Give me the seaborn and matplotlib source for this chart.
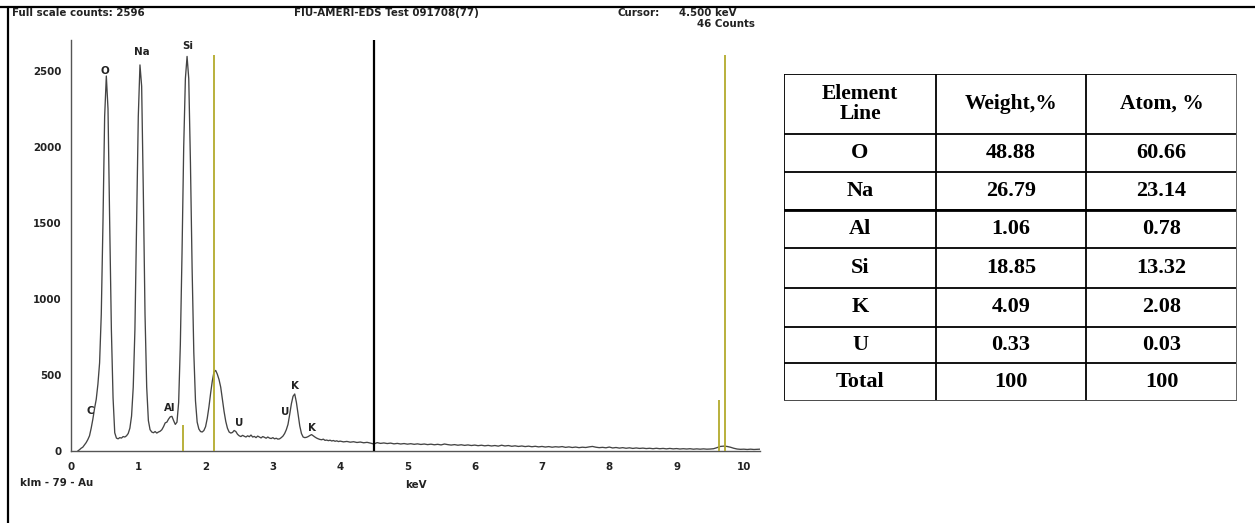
import matplotlib
matplotlib.use("Agg")
import matplotlib.pyplot as plt
from matplotlib.lines import Line2D
import seaborn as sns
import pandas as pd

# ---------------- data ----------------
energy_kev = [
    0.100, 0.125, 0.150, 0.175, 0.200, 0.225, 0.250, 0.275, 0.300, 0.325,
    0.350, 0.375, 0.400, 0.425, 0.450, 0.475, 0.500, 0.525, 0.550, 0.575,
    0.600, 0.625, 0.650, 0.675, 0.700, 0.725, 0.750, 0.775, 0.800, 0.825,
    0.850, 0.875, 0.900, 0.925, 0.950, 0.975, 1.000, 1.025, 1.050, 1.075,
    1.100, 1.125, 1.150, 1.175, 1.200, 1.225, 1.250, 1.275, 1.300, 1.325,
    1.350, 1.375, 1.400, 1.425, 1.450, 1.475, 1.500, 1.525, 1.550, 1.575,
    1.600, 1.625, 1.650, 1.675, 1.700, 1.725, 1.750, 1.775, 1.800, 1.825,
    1.850, 1.875, 1.900, 1.925, 1.950, 1.975, 2.000, 2.025, 2.050, 2.075,
    2.100, 2.125, 2.150, 2.175, 2.200, 2.225, 2.250, 2.275, 2.300, 2.325,
    2.350, 2.375, 2.400, 2.425, 2.450, 2.475, 2.500, 2.525, 2.550, 2.575,
    2.600, 2.625, 2.650, 2.675, 2.700, 2.725, 2.750, 2.775, 2.800, 2.825,
    2.850, 2.875, 2.900, 2.925, 2.950, 2.975, 3.000, 3.025, 3.050, 3.075,
    3.100, 3.125, 3.150, 3.175, 3.200, 3.225, 3.250, 3.275, 3.300, 3.325,
    3.350, 3.375, 3.400, 3.425, 3.450, 3.475, 3.500, 3.525, 3.550, 3.575,
    3.600, 3.625, 3.650, 3.675, 3.700, 3.725, 3.750, 3.775, 3.800, 3.825,
    3.850, 3.875, 3.900, 3.925, 3.950, 3.975, 4.000,
    4.05, 4.10, 4.15, 4.20, 4.25, 4.30, 4.35, 4.40, 4.45, 4.50,
    4.55, 4.60, 4.65, 4.70, 4.75, 4.80, 4.85, 4.90, 4.95, 5.00,
    5.05, 5.10, 5.15, 5.20, 5.25, 5.30, 5.35, 5.40, 5.45, 5.50,
    5.55, 5.60, 5.65, 5.70, 5.75, 5.80, 5.85, 5.90, 5.95, 6.00,
    6.05, 6.10, 6.15, 6.20, 6.25, 6.30, 6.35, 6.40, 6.45, 6.50,
    6.55, 6.60, 6.65, 6.70, 6.75, 6.80, 6.85, 6.90, 6.95, 7.00,
    7.05, 7.10, 7.15, 7.20, 7.25, 7.30, 7.35, 7.40, 7.45, 7.50,
    7.55, 7.60, 7.65, 7.70, 7.75, 7.80, 7.85, 7.90, 7.95, 8.00,
    8.05, 8.10, 8.15, 8.20, 8.25, 8.30, 8.35, 8.40, 8.45, 8.50,
    8.55, 8.60, 8.65, 8.70, 8.75, 8.80, 8.85, 8.90, 8.95, 9.00,
    9.05, 9.10, 9.15, 9.20, 9.25, 9.30, 9.35, 9.40, 9.45, 9.50,
    9.55, 9.60, 9.65, 9.70, 9.75, 9.80, 9.85, 9.90, 9.95, 10.00,
    10.05, 10.10, 10.15, 10.20, 10.24,
]
counts = [
    0, 8, 18, 25, 40, 55, 75, 100, 150, 210,
    280, 340, 440, 580, 900, 1500, 2200, 2467, 2250, 1500,
    800, 350, 120, 85, 80, 88, 85, 95, 92, 100,
    115, 150, 230, 420, 800, 1500, 2200, 2540, 2400, 1700,
    900, 420, 200, 140, 125, 120, 128, 118, 125, 130,
    140, 160, 185, 190, 210, 225, 228, 200, 175, 190,
    320, 700, 1300, 2000, 2450, 2596, 2450, 1900, 1200, 650,
    330, 190, 145, 128, 125, 135, 160, 215, 290, 380,
    460, 520, 530, 505, 470, 420, 340, 260, 195, 150,
    125, 118, 122, 135, 128, 110, 100, 95, 103, 97,
    92, 100, 94, 105, 92, 96, 88, 98, 92, 86,
    95, 90, 84, 92, 85, 82, 88, 80, 84, 78,
    80, 88, 98, 115, 140, 175, 240, 310, 360, 375,
    320, 240, 165, 115, 92, 88, 90, 95, 102, 108,
    100, 92, 85, 80, 76, 74, 78, 70, 72, 68,
    71, 66, 69, 64, 67, 62, 65,
    60, 63, 58, 61, 56, 59, 54, 57, 52, 46,
    55, 50, 53, 49, 52, 47, 50, 46, 49, 45,
    48, 44, 47, 43, 46, 42, 45, 41, 44, 40,
    46, 42, 39, 42, 38, 41, 37, 40, 36, 39,
    35, 38, 34, 37, 33, 36, 32, 38, 33, 36,
    31, 34, 30, 33, 29, 32, 28, 31, 27, 30,
    26, 29, 25, 28, 26, 29, 24, 27, 23, 26,
    22, 25, 23, 27, 30, 25, 22, 24, 21, 26,
    20, 23, 19, 22, 18, 21, 17, 20, 17, 19,
    16, 18, 15, 18, 15, 17, 14, 17, 14, 16,
    13, 15, 13, 15, 12, 14, 12, 14, 12, 13,
    15, 22, 30, 32, 30, 25, 18, 13, 11, 12,
    10, 12, 10, 11, 12,
]

peak_labels = ["O", "Na", "Si", "C", "Al", "U", "U", "K", "K"]
peak_label_kev = [0.50, 1.05, 1.74, 0.28, 1.47, 2.50, 3.18, 3.33, 3.58]
peak_label_counts = [2500, 2625, 2664, 263, 283, 184, 256, 428, 151]

marker_kev = [1.67, 2.13, 9.63, 9.72]
marker_counts = [171, 2605, 335, 2605]
cursor_kev = 4.5

x_ticks = [0, 1, 2, 3, 4, 5, 6, 7, 8, 9, 10]
y_ticks = [0, 500, 1000, 1500, 2000, 2500]

table_header = ["Element\nLine", "Weight,%", "Atom, %"]
elements = ["O", "Na", "Al", "Si", "K", "U", "Total"]
weight_pct = ["48.88", "26.79", "1.06", "18.85", "4.09", "0.33", "100"]
atom_pct = ["60.66", "23.14", "0.78", "13.32", "2.08", "0.03", "100"]

# ---------------- style ----------------
sns.set_theme(style="white")
plt.rcParams["font.family"] = ["DejaVu Sans"]
plt.rcParams["font.weight"] = "bold"

W, H = 1255, 523
fig = plt.figure(figsize=(W / 100, H / 100), dpi=100)
fig.patch.set_facecolor("white")

# outer frame (top + left)
fig.add_artist(Line2D([0, 1], [1 - 7 / H, 1 - 7 / H], color="black", lw=1.6))
fig.add_artist(Line2D([8 / W, 8 / W], [0, 1 - 7 / H], color="black", lw=1.6))

# ---------------- spectrum axes ----------------
ax = fig.add_axes([71 / W, 72 / H, 689 / W, 411 / H])
df = pd.DataFrame({"keV": energy_kev, "Counts": counts})
sns.lineplot(data=df, x="keV", y="Counts", ax=ax, color="#444444",
             linewidth=0.95, estimator=None, sort=False)
ax.set_xlim(0, 10.24)
ax.set_ylim(0, 2704)
ax.set_xlabel("")
ax.set_ylabel("")
ax.set_xticks(x_ticks)
ax.set_yticks(y_ticks)
ax.set_xticklabels([str(t) for t in x_ticks])
ax.set_yticklabels([str(t) for t in y_ticks])
for s in ["top", "right"]:
    ax.spines[s].set_visible(False)
for s in ["left", "bottom"]:
    ax.spines[s].set_color("#555555")
    ax.spines[s].set_linewidth(1.0)
ax.tick_params(axis="both", direction="out", length=5, width=1,
               color="#555555", labelsize=7.4, labelcolor="#222222")
ax.tick_params(axis="x", pad=3)
ax.tick_params(axis="y", pad=2)
ax.set_facecolor("white")

ax.vlines(marker_kev, 0, marker_counts, color="#b3aa2c", lw=1.3, zorder=3)
ax.axvline(cursor_kev, color="black", lw=1.6, zorder=4)

for lab, xk, yc in zip(peak_labels, peak_label_kev, peak_label_counts):
    ax.text(xk, yc, lab, ha="center", va="center", fontsize=7.4,
            fontweight="bold", color="#222222")

# header texts
tk = dict(fontsize=7.4, fontweight="bold", color="#222222", va="center")
fig.text(12 / W, 1 - 13 / H, "Full scale counts: 2596", ha="left", **tk)
fig.text(386 / W, 1 - 13 / H, "FIU-AMERI-EDS Test 091708(77)", ha="center", **tk)
fig.text(617 / W, 1 - 13 / H, "Cursor:", ha="left", **tk)
fig.text(679 / W, 1 - 13 / H, "4.500 keV", ha="left", **tk)
fig.text(755 / W, 1 - 24 / H, "46 Counts", ha="right", **tk)
fig.text(20 / W, 1 - 483 / H, "klm - 79 - Au", ha="left", **tk)
fig.text(405 / W, 1 - 485 / H, "keV", ha="left", **tk)

# ---------------- table ----------------
tx0, ty0, tw, th = 784, 74, 453, 327
tax = fig.add_axes([tx0 / W, 1 - (ty0 + th) / H, tw / W, th / H])
tax.set_xlim(0, tw)
tax.set_ylim(th, 0)
tax.axis("off")

col_edges = [0, 152, 302, 453]
row_edges = [0, 60, 98, 136, 174, 214, 253, 289, 327]

for x in col_edges:
    tax.plot([x, x], [0, th], color="black", lw=1.3, solid_capstyle="butt")
for y in row_edges:
    tax.plot([0, tw], [y, y], color="black", lw=1.3, solid_capstyle="butt")
tax.plot([0, tw], [row_edges[3], row_edges[3]], color="black", lw=2.0)
# shadow on right / bottom
tax.plot([tw, tw], [0, th], color="#777777", lw=2.0)
tax.plot([0, tw], [th, th], color="#555555", lw=2.0)

serif = ["Liberation Serif", "DejaVu Serif"]
cx = [(col_edges[i] + col_edges[i + 1]) / 2 for i in range(3)]
for i, h in enumerate(table_header):
    tax.text(cx[i], row_edges[1] / 2, h, ha="center", va="center",
             fontsize=15.5, fontweight="bold", family=serif,
             linespacing=1.05, color="black")
for r, (e, w, a) in enumerate(zip(elements, weight_pct, atom_pct)):
    yc = (row_edges[r + 1] + row_edges[r + 2]) / 2
    for i, v in enumerate([e, w, a]):
        tax.text(cx[i], yc, v, ha="center", va="center", fontsize=16,
                 fontweight="bold", family=serif, color="black")

fig.savefig("out.png", dpi=100, facecolor="white")
